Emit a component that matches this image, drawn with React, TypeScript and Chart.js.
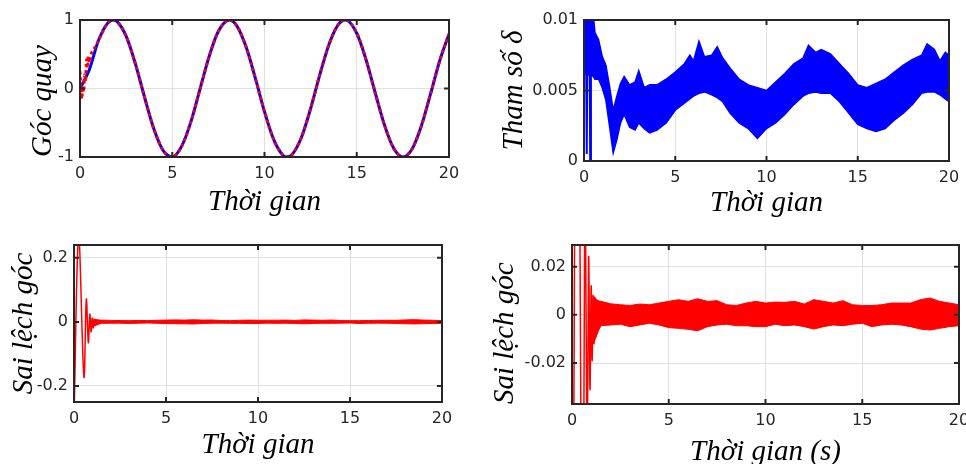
import { useEffect, useRef } from "react";
import { Chart, registerables } from "chart.js";

Chart.register(...registerables);

// ---------- shared axis data ----------
const X_TICKS = [0, 5, 10, 15, 20];
const X_LABELS = ["0", "5", "10", "15", "20"];

// ---------- panel 1: Góc quay ----------
const ANGLE_T = [0, 0.5, 1, 1.5, 1.8, 2, 2.5, 3, 3.5, 4, 4.5, 5, 5.5, 6, 6.5, 7, 7.5, 8.1, 8.5, 9, 9.5, 10, 10.5, 11, 11.2, 11.5, 12, 12.5, 13, 13.5, 14, 14.4, 15, 15.5, 16, 16.5, 17, 17.5, 18, 18.5, 19, 19.5, 20];
const ANGLE_REF = [0, 0.27, 0.7, 0.955, 1.0, 0.98, 0.765, 0.363, -0.128, -0.588, -0.903, -0.998, -0.848, -0.495, -0.013, 0.468, 0.835, 1.0, 0.915, 0.608, 0.154, -0.339, -0.746, -0.975, -1.0, -0.962, -0.715, -0.292, 0.203, 0.647, 0.933, 1.0, 0.806, 0.424, -0.062, -0.531, -0.873, -1.0, -0.882, -0.547, -0.079, 0.408, 0.796];
const ANGLE_OUT_START_T = [0, 0.05, 0.1, 0.15, 0.2, 0.25, 0.3, 0.35, 0.4, 0.45, 0.5, 0.6, 0.7, 0.85];
const ANGLE_OUT_START_V = [0.25, 0.02, -0.15, 0.03, -0.05, 0.2, 0.1, 0.42, 0.3, 0.47, 0.38, 0.5, 0.55, 0.62];
const ANGLE_Y_TICKS = [-1, 0, 1];
const ANGLE_Y_LABELS = ["-1", "0", "1"];

// ---------- panel 2: Tham số δ (envelope of fast oscillation) ----------
const DELTA_T = [0, 0.5, 0.6, 0.8, 1.0, 1.2, 1.4, 1.6, 1.8, 2.0, 2.2, 2.5, 2.8, 3.0, 3.3, 3.6, 4.0, 4.5, 5.0, 5.5, 5.8, 6.0, 6.3, 6.6, 7.0, 7.3, 7.6, 8.0, 8.5, 9.0, 9.5, 10.0, 10.5, 11.0, 11.5, 12.0, 12.3, 12.7, 13.0, 13.5, 14.0, 14.5, 15.0, 15.5, 16.0, 16.5, 17.0, 17.5, 18.0, 18.5, 18.8, 19.2, 19.5, 19.8, 20.0];
const DELTA_UPPER = [0.0105, 0.0105, 0.0091, 0.0086, 0.0074, 0.0068, 0.0053, 0.0036, 0.0046, 0.0055, 0.006, 0.0054, 0.0056, 0.0064, 0.0052, 0.0054, 0.0054, 0.0058, 0.0063, 0.0069, 0.0075, 0.0071, 0.0085, 0.0074, 0.0075, 0.0081, 0.0073, 0.0066, 0.0058, 0.0054, 0.0052, 0.005, 0.0056, 0.0062, 0.0069, 0.0073, 0.0082, 0.0077, 0.0079, 0.0076, 0.0069, 0.0062, 0.0054, 0.0052, 0.0055, 0.0058, 0.0063, 0.0068, 0.0072, 0.0075, 0.0083, 0.0079, 0.0071, 0.0077, 0.0075];
const DELTA_LOWER = [0.0062, 0.006, 0.0058, 0.0058, 0.0052, 0.0043, 0.00245, 0.00057, 0.0015, 0.0027, 0.0033, 0.0024, 0.0022, 0.0027, 0.0023, 0.002, 0.0022, 0.0027, 0.0036, 0.0041, 0.0044, 0.0046, 0.0048, 0.0049, 0.0047, 0.0045, 0.0042, 0.0034, 0.0027, 0.0023, 0.0016, 0.0023, 0.0027, 0.0033, 0.004, 0.0046, 0.0048, 0.0049, 0.0048, 0.0048, 0.0042, 0.0034, 0.0026, 0.0023, 0.0021, 0.0023, 0.0029, 0.0034, 0.004, 0.0048, 0.0049, 0.0049, 0.0047, 0.0044, 0.0042];
const DELTA_SPIKE_T = [0.1, 0.15, 0.2, 0.3, 0.34, 0.38];
const DELTA_SPIKE_V = [0.0105, 0.0005, 0.0105, 0.0105, -0.0002, 0.0105];
const DELTA_Y_TICKS = [0, 0.005, 0.01];
const DELTA_Y_LABELS = ["0", "0.005", "0.01"];

// ---------- panels 3 & 4: Sai lệch góc ----------
const ERR_T = [0, 0.25, 0.54, 0.67, 0.78, 0.86, 0.93, 0.99, 1.04, 1.09, 1.14, 1.19, 1.24, 1.3, 1.36, 1.42];
const ERR_V = [-0.3, 0.27, -0.172, 0.071, -0.065, 0.024, -0.031, 0.012, -0.019, 0.008, -0.012, 0.007, -0.009, 0.006, -0.006, 0.005];
const ERR_BAND_T = [1.1, 1.2, 1.3, 1.4, 1.5, 2.0, 2.5, 3.0, 3.5, 4.0, 4.5, 5.0, 5.5, 6.0, 6.5, 7.0, 7.5, 8.0, 8.5, 9.0, 9.5, 10.0, 10.5, 11.0, 11.5, 12.0, 12.5, 13.0, 13.5, 14.0, 14.5, 15.0, 15.5, 16.0, 16.5, 17.0, 17.5, 18.0, 18.5, 19.0, 19.5, 20.0];
const ERR_UPPER = [0.008, 0.007, 0.006, 0.0058, 0.0056, 0.0046, 0.0042, 0.0039, 0.0045, 0.0042, 0.0049, 0.0056, 0.0063, 0.0056, 0.0067, 0.0056, 0.0059, 0.0042, 0.0039, 0.0049, 0.0056, 0.0049, 0.0053, 0.0052, 0.0056, 0.0045, 0.0063, 0.0056, 0.0049, 0.0059, 0.0042, 0.0039, 0.0039, 0.0042, 0.0049, 0.0049, 0.0049, 0.0063, 0.007, 0.0056, 0.0049, 0.0042];
const ERR_LOWER = [-0.012, -0.01, -0.008, -0.006, -0.0045, -0.0042, -0.0039, -0.0049, -0.0042, -0.0035, -0.0042, -0.0053, -0.0056, -0.006, -0.0066, -0.0049, -0.0042, -0.0039, -0.0045, -0.0045, -0.0049, -0.0049, -0.0039, -0.0045, -0.0042, -0.0049, -0.0059, -0.0049, -0.0042, -0.0045, -0.0039, -0.0035, -0.0049, -0.0042, -0.0039, -0.0042, -0.0049, -0.0059, -0.0063, -0.0056, -0.0049, -0.0045];
const ERR_WIDE_Y_TICKS = [-0.2, 0, 0.2];
const ERR_WIDE_Y_LABELS = ["-0.2", "0", "0.2"];
const ERR_ZOOM_Y_TICKS = [-0.02, 0, 0.02];
const ERR_ZOOM_Y_LABELS = ["-0.02", "0", "0.02"];

// ---------- styling ----------
const INK = "#262626";
const GRID = "#e0e0e0";
const BLUE = "#0000ff";
const RED = "#ff0000";
const TICK_FONT = { family: '"DejaVu Sans", sans-serif', size: 16 };
const TITLE_FONT = { family: '"Liberation Serif", "Times New Roman", serif', size: 29, style: "italic" as const };

const pts = (t: number[], v: number[]) => t.map((x, i) => ({ x, y: v[i] }));

const boxPlugin = {
  id: "matlabBox",
  afterDraw(chart: any) {
    const { ctx, chartArea } = chart;
    const { left, right, top, bottom } = chartArea;
    const xs = chart.scales.x;
    const ys = chart.scales.y;
    ctx.save();
    ctx.strokeStyle = INK;
    ctx.lineWidth = 2;
    ctx.beginPath();
    xs.ticks.forEach((t: any) => {
      const p = xs.getPixelForValue(t.value);
      ctx.moveTo(p, bottom);
      ctx.lineTo(p, bottom - 5);
      ctx.moveTo(p, top);
      ctx.lineTo(p, top + 5);
    });
    ys.ticks.forEach((t: any) => {
      const p = ys.getPixelForValue(t.value);
      ctx.moveTo(left, p);
      ctx.lineTo(left + 5, p);
      ctx.moveTo(right, p);
      ctx.lineTo(right - 5, p);
    });
    ctx.stroke();
    ctx.strokeRect(left, top, right - left, bottom - top);
    ctx.restore();
  },
};

type Spec = {
  box: { x: number; y: number; w: number; h: number };
  plot: { l: number; t: number; r: number; b: number };
  yMin: number;
  yMax: number;
  yTicks: number[];
  yLabels: string[];
  xTitle: string;
  yTitle: string;
  yTitlePad: number;
  yTitleAlign: "start" | "center";
  xTitlePad: number;
  datasets: any[];
};

function Panel({ spec }: { spec: Spec }) {
  const ref = useRef<HTMLCanvasElement>(null);
  useEffect(() => {
    const s = spec;
    const yWidth = s.plot.l - s.box.x;
    const padTop = s.plot.t - s.box.y;
    const padRight = s.box.x + s.box.w - s.plot.r;
    const xHeight = s.box.y + s.box.h - s.plot.b;
    const chart = new Chart(ref.current as HTMLCanvasElement, {
      type: "line",
      data: { datasets: s.datasets },
      options: {
        animation: false,
        responsive: false,
        devicePixelRatio: 1,
        layout: { padding: { left: 0, top: padTop, right: padRight, bottom: 0 } },
        plugins: { legend: { display: false }, tooltip: { enabled: false } },
        elements: { point: { radius: 0 } },
        scales: {
          x: {
            type: "linear",
            min: 0,
            max: 20,
            afterBuildTicks: (sc: any) => {
              sc.ticks = X_TICKS.map((v) => ({ value: v }));
            },
            afterFit: (sc: any) => {
              sc.height = xHeight;
              sc.paddingLeft = 0;
              sc.paddingRight = 0;
            },
            ticks: {
              font: TICK_FONT,
              color: INK,
              padding: 7,
              maxRotation: 0,
              autoSkip: false,
              callback: (_v: any, i: number) => X_LABELS[i],
            },
            grid: { color: GRID, drawTicks: false, lineWidth: 1 },
            border: { display: false },
            title: {
              display: true,
              text: s.xTitle,
              font: TITLE_FONT,
              color: "#000",
              padding: { top: 0, bottom: s.xTitlePad },
            },
          },
          y: {
            type: "linear",
            min: s.yMin,
            max: s.yMax,
            afterBuildTicks: (sc: any) => {
              sc.ticks = s.yTicks.map((v) => ({ value: v }));
            },
            afterFit: (sc: any) => {
              sc.width = yWidth;
              sc.paddingTop = 0;
              sc.paddingBottom = 0;
            },
            ticks: {
              font: TICK_FONT,
              color: INK,
              padding: 6,
              autoSkip: false,
              callback: (_v: any, i: number) => s.yLabels[i],
            },
            grid: { color: GRID, drawTicks: false, lineWidth: 1 },
            border: { display: false },
            title: {
              display: true,
              text: s.yTitle,
              font: TITLE_FONT,
              color: "#000",
              align: s.yTitleAlign,
              padding: { top: s.yTitlePad, bottom: 0 },
            },
          },
        },
      } as any,
      plugins: [boxPlugin],
    });
    return () => chart.destroy();
  }, [spec]);
  return (
    <canvas
      ref={ref}
      width={spec.box.w}
      height={spec.box.h}
      style={{ position: "absolute", left: spec.box.x, top: spec.box.y, width: spec.box.w, height: spec.box.h }}
    />
  );
}

const refPts = pts(ANGLE_T, ANGLE_REF);
const outPts = pts(ANGLE_OUT_START_T, ANGLE_OUT_START_V).concat(refPts.filter((p) => p.x >= 1));

const errLine = (width: number) => [
  { data: pts(ERR_T, ERR_V), borderColor: RED, borderWidth: width, tension: 0.35, fill: false },
  { data: pts(ERR_BAND_T, ERR_UPPER), borderColor: RED, backgroundColor: RED, borderWidth: 1, fill: "+1", tension: 0 },
  { data: pts(ERR_BAND_T, ERR_LOWER), borderColor: RED, borderWidth: 1, fill: false, tension: 0 },
];

const SPECS: Spec[] = [
  {
    box: { x: 0, y: 0, w: 470, h: 230 },
    plot: { l: 80, t: 20, r: 449, b: 157 },
    yMin: -1,
    yMax: 1,
    yTicks: ANGLE_Y_TICKS,
    yLabels: ANGLE_Y_LABELS,
    xTitle: "Thời gian",
    yTitle: "Góc quay",
    yTitlePad: 26,
    yTitleAlign: "start",
    xTitlePad: 10,
    datasets: [
      { data: outPts, borderColor: RED, borderWidth: 3, borderDash: [3, 3], cubicInterpolationMode: "monotone", fill: false },
      { data: refPts, borderColor: BLUE, borderWidth: 3, cubicInterpolationMode: "monotone", fill: false },
    ],
  },
  {
    box: { x: 480, y: 0, w: 486, h: 230 },
    plot: { l: 584, t: 20, r: 949, b: 161 },
    yMin: 0,
    yMax: 0.01,
    yTicks: DELTA_Y_TICKS,
    yLabels: DELTA_Y_LABELS,
    xTitle: "Thời gian",
    yTitle: "Tham số δ",
    yTitlePad: 17,
    yTitleAlign: "center",
    xTitlePad: 9,
    datasets: [
      { data: pts(DELTA_SPIKE_T, DELTA_SPIKE_V), borderColor: BLUE, borderWidth: 2, fill: false },
      { data: pts(DELTA_T, DELTA_UPPER), borderColor: BLUE, backgroundColor: BLUE, borderWidth: 1.5, fill: "+1" },
      { data: pts(DELTA_T, DELTA_LOWER), borderColor: BLUE, borderWidth: 1.5, fill: false },
    ],
  },
  {
    box: { x: 0, y: 235, w: 470, h: 229 },
    plot: { l: 74, t: 245, r: 442, b: 402 },
    yMin: -0.25,
    yMax: 0.24,
    yTicks: ERR_WIDE_Y_TICKS,
    yLabels: ERR_WIDE_Y_LABELS,
    xTitle: "Thời gian",
    yTitle: "Sai lệch góc",
    yTitlePad: 6.5,
    yTitleAlign: "center",
    xTitlePad: 1,
    datasets: errLine(1.5),
  },
  {
    box: { x: 480, y: 235, w: 486, h: 245 },
    plot: { l: 572, t: 245, r: 959, b: 404 },
    yMin: -0.037,
    yMax: 0.029,
    yTicks: ERR_ZOOM_Y_TICKS,
    yLabels: ERR_ZOOM_Y_LABELS,
    xTitle: "Thời gian (s)",
    yTitle: "Sai lệch góc",
    yTitlePad: 8,
    yTitleAlign: "start",
    xTitlePad: 10,
    datasets: errLine(1.5),
  },
];

export default function App() {
  return (
    <div
      style={{
        position: "fixed",
        left: 0,
        top: 0,
        width: 966,
        height: 464,
        overflow: "hidden",
        background: "#ffffff",
      }}
    >
      {SPECS.map((s, i) => (
        <Panel key={i} spec={s} />
      ))}
    </div>
  );
}
